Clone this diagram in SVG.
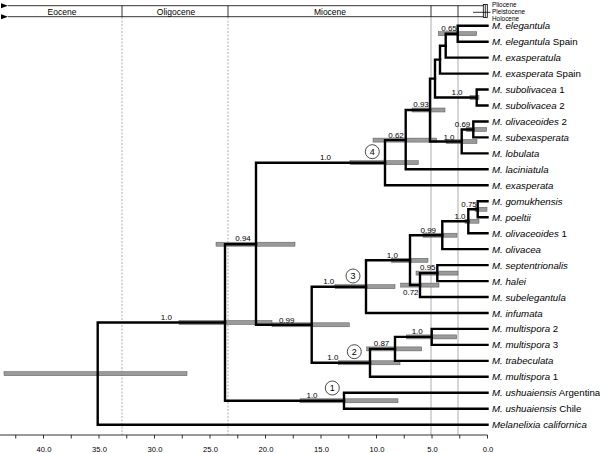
<svg xmlns="http://www.w3.org/2000/svg" width="600" height="453" viewBox="0 0 600 453">
<style>
text{font-family:"Liberation Sans",Arial,sans-serif;fill:#000}
.tip{font-size:9.7px}
.tip .i{font-style:italic}
.sup{font-size:8px;text-anchor:middle}
.ep{font-size:8.5px;text-anchor:middle}
.ep2{font-size:6.4px}
.ax{font-size:7.6px;text-anchor:middle}
.cl{font-size:9px;text-anchor:middle}
.br{fill:none;stroke:#000;stroke-width:2.4;stroke-linecap:square;stroke-linejoin:miter}
.bar{fill:#9a9a9a;stroke:#555;stroke-width:0.5}
.grid{stroke:#999;stroke-width:0.8}
.gridd{stroke:#999;stroke-width:0.8;stroke-dasharray:2,1.5}
.hl{stroke:#000;stroke-width:0.8;fill:none}
.circ{fill:#fff;stroke:#000;stroke-width:0.7}
</style>
<defs>
<marker id="arr" markerWidth="8" markerHeight="6" refX="0" refY="3" orient="auto" markerUnits="userSpaceOnUse">
<path d="M0,3 L7,0.5 L7,5.5 Z" fill="#000"/>
</marker>
</defs>
<rect width="600" height="453" fill="#fff"/>
<g id="timescale">
<line class="gridd" x1="122" y1="17" x2="122" y2="435"/>
<line class="gridd" x1="228" y1="17" x2="228" y2="435"/>
<line class="grid" x1="431" y1="17" x2="431" y2="435"/>
<line class="grid" x1="458" y1="17" x2="458" y2="435"/>
<line class="hl" x1="483.3" y1="5.7" x2="8" y2="5.7" marker-end="url(#arr)"/>
<line class="hl" x1="483.3" y1="16.7" x2="8" y2="16.7" marker-end="url(#arr)"/>
<line class="hl" x1="122" y1="5.7" x2="122" y2="16.7"/>
<line class="hl" x1="228" y1="5.7" x2="228" y2="16.7"/>
<line class="hl" x1="431" y1="5.7" x2="431" y2="16.7"/>
<line class="hl" x1="458" y1="5.7" x2="458" y2="16.7"/>
<rect class="hl" x="483.3" y="4.5" width="4" height="13"/>
<line class="hl" x1="485.3" y1="4.5" x2="485.3" y2="17.5"/>
<line class="hl" x1="473" y1="12.3" x2="490.5" y2="12.3"/>
<text class="ep" x="62" y="14.5">Eocene</text>
<text class="ep" x="176" y="14.5">Oligocene</text>
<text class="ep" x="330" y="14.5">Miocene</text>
<text class="ep2" x="492" y="7">Pliocene</text>
<text class="ep2" x="492" y="14.2">Pleistocene</text>
<text class="ep2" x="492" y="20.6">Holocene</text>
</g>
<g id="axis">
<line class="hl" x1="0" y1="435" x2="487.5" y2="435"/>
<path class="hl" d="M15.75,435v3.5M43.5,435v3.5M71.25,435v3.5M99,435v3.5M126.75,435v3.5M154.5,435v3.5M182.25,435v3.5M210,435v3.5M237.75,435v3.5M265.5,435v3.5M293.25,435v3.5M321,435v3.5M348.75,435v3.5M376.5,435v3.5M404.25,435v3.5M432,435v3.5M459.75,435v3.5M487.5,435v3.5"/>
<text class="ax" x="44" y="451.5">40.0</text>
<text class="ax" x="99.5" y="451.5">35.0</text>
<text class="ax" x="155" y="451.5">30.0</text>
<text class="ax" x="210.5" y="451.5">25.0</text>
<text class="ax" x="266" y="451.5">20.0</text>
<text class="ax" x="321.5" y="451.5">15.0</text>
<text class="ax" x="377" y="451.5">10.0</text>
<text class="ax" x="432.5" y="451.5">5.0</text>
<text class="ax" x="488" y="451.5">0.0</text>
</g>
<g id="bars">
<rect class="bar" x="4" y="371.7" width="183" height="4"/>
<rect class="bar" x="179" y="320.5" width="93" height="4"/>
<rect class="bar" x="300" y="398.8" width="98" height="4"/>
<rect class="bar" x="216" y="242.2" width="79" height="4"/>
<rect class="bar" x="350" y="160.7" width="68.3" height="4"/>
<rect class="bar" x="373" y="138.1" width="63.7" height="4"/>
<rect class="bar" x="412" y="108" width="33" height="4"/>
<rect class="bar" x="438.3" y="31.7" width="38.4" height="4"/>
<rect class="bar" x="470" y="95.5" width="9" height="4"/>
<rect class="bar" x="446" y="139.5" width="31" height="4"/>
<rect class="bar" x="466.7" y="127.5" width="20" height="4"/>
<rect class="bar" x="272" y="322.8" width="77.3" height="4"/>
<rect class="bar" x="335" y="284.7" width="60" height="4"/>
<rect class="bar" x="391.7" y="258.3" width="36.3" height="4"/>
<rect class="bar" x="423" y="233.2" width="34" height="4"/>
<rect class="bar" x="465" y="219.2" width="14" height="4"/>
<rect class="bar" x="475" y="207.25" width="12" height="4"/>
<rect class="bar" x="400.7" y="283.1" width="38.3" height="4"/>
<rect class="bar" x="416" y="271.1" width="42" height="4"/>
<rect class="bar" x="338.3" y="360.8" width="61.7" height="4"/>
<rect class="bar" x="366.7" y="346.9" width="55" height="4"/>
<rect class="bar" x="406.7" y="334.9" width="50" height="4"/>
</g>
<g id="connectors">
<path class="br" d="M97.7,373.7V322.5H225M97.7,373.7V424.7H487.5"/>
<path class="br" d="M225,322.5V244.2H256M225,322.5V400.8H344"/>
<path class="br" d="M344,400.8V392.8H487.5M344,400.8V408.7H487.5"/>
<path class="br" d="M256,244.2V162.7H385M256,244.2V324.8H311.7"/>
<path class="br" d="M385,162.7V140.1H405.7M385,162.7V185.3H487.5"/>
<path class="br" d="M405.7,140.1V110H430M405.7,140.1V169.3H487.5"/>
<path class="br" d="M430,110V78.6H435M430,110V141.5H461.7"/>
<path class="br" d="M435,78.6V59.6H440M435,78.6V97.5H476.7"/>
<path class="br" d="M440,59.6V45.7H445.7M440,59.6V73.6H487.5"/>
<path class="br" d="M445.7,45.7V33.7H457.7M445.7,45.7V57.6H487.5"/>
<path class="br" d="M457.7,33.7V25.7H487.5M457.7,33.7V41.7H487.5"/>
<path class="br" d="M476.7,97.5V89.5H487.5M476.7,97.5V105.5H487.5"/>
<path class="br" d="M461.7,141.5V129.5H473.3M461.7,141.5V153.4H487.5"/>
<path class="br" d="M473.3,129.5V121.5H487.5M473.3,129.5V137.4H487.5"/>
<path class="br" d="M311.7,324.8V286.7H366M311.7,324.8V362.8H370"/>
<path class="br" d="M366,286.7V260.3H410M366,286.7V313H487.5"/>
<path class="br" d="M410,260.3V235.2H442.3M410,260.3V285.1H420"/>
<path class="br" d="M442.3,235.2V221.2H468.3M442.3,235.2V249.1H487.5"/>
<path class="br" d="M468.3,221.2V209.25H477.7M468.3,221.2V233.2H487.5"/>
<path class="br" d="M477.7,209.25V201.3H487.5M477.7,209.25V217.2H487.5"/>
<path class="br" d="M420,285.1V273.1H437.3M420,285.1V297H487.5"/>
<path class="br" d="M437.3,273.1V265.1H487.5M437.3,273.1V281.1H487.5"/>
<path class="br" d="M370,362.8V348.9H395M370,362.8V376.8H487.5"/>
<path class="br" d="M395,348.9V336.9H431.7M395,348.9V360.9H487.5"/>
<path class="br" d="M431.7,336.9V328.9H487.5M431.7,336.9V344.9H487.5"/>
</g>
<g id="support">
<text class="sup" x="449" y="31">0.65</text>
<text class="sup" x="457" y="95">1.0</text>
<text class="sup" x="421" y="107">0.93</text>
<text class="sup" x="462.5" y="126.5">0.69</text>
<text class="sup" x="449" y="139.5">1.0</text>
<text class="sup" x="396" y="137.5">0.62</text>
<text class="sup" x="325.5" y="159.5">1.0</text>
<text class="sup" x="469" y="207">0.75</text>
<text class="sup" x="460" y="218.5">1.0</text>
<text class="sup" x="428.3" y="232.5">0.99</text>
<text class="sup" x="392.3" y="258">1.0</text>
<text class="sup" x="427.8" y="270">0.95</text>
<text class="sup" x="410.8" y="294.5">0.72</text>
<text class="sup" x="243" y="241">0.94</text>
<text class="sup" x="328.7" y="284">1.0</text>
<text class="sup" x="166.3" y="320">1.0</text>
<text class="sup" x="286.7" y="322.5">0.99</text>
<text class="sup" x="332.8" y="360">1.0</text>
<text class="sup" x="381.5" y="346">0.87</text>
<text class="sup" x="417.2" y="334">1.0</text>
<text class="sup" x="312" y="397.5">1.0</text>
</g>
<g id="clade4"><circle class="circ" cx="372.3" cy="151.7" r="7"/><text class="cl" x="372.3" y="154.9">4</text></g>
<g id="clade3"><circle class="circ" cx="353" cy="276" r="7"/><text class="cl" x="353" y="279.2">3</text></g>
<g id="clade2"><circle class="circ" cx="354.3" cy="351.7" r="7"/><text class="cl" x="354.3" y="354.9">2</text></g>
<g id="clade1"><circle class="circ" cx="332.3" cy="388" r="7"/><text class="cl" x="332.3" y="391.2">1</text></g>
<g id="t0"><text class="tip" x="492" y="29.2"><tspan class="i">M. elegantula</tspan></text></g>
<g id="t1"><text class="tip" x="492" y="45.2"><tspan class="i">M. elegantula</tspan> Spain</text></g>
<g id="t2"><text class="tip" x="492" y="61.1"><tspan class="i">M. exasperatula</tspan></text></g>
<g id="t3"><text class="tip" x="492" y="77.1"><tspan class="i">M. exasperata</tspan> Spain</text></g>
<g id="t4"><text class="tip" x="492" y="93"><tspan class="i">M. subolivacea</tspan> 1</text></g>
<g id="t5"><text class="tip" x="492" y="109"><tspan class="i">M. subolivacea</tspan> 2</text></g>
<g id="t6"><text class="tip" x="492" y="125"><tspan class="i">M. olivaceoides</tspan> 2</text></g>
<g id="t7"><text class="tip" x="492" y="140.9"><tspan class="i">M. subexasperata</tspan></text></g>
<g id="t8"><text class="tip" x="492" y="156.9"><tspan class="i">M. lobulata</tspan></text></g>
<g id="t9"><text class="tip" x="492" y="172.8"><tspan class="i">M. laciniatula</tspan></text></g>
<g id="t10"><text class="tip" x="492" y="188.8"><tspan class="i">M. exasperata</tspan></text></g>
<g id="t11"><text class="tip" x="492" y="204.8"><tspan class="i">M. gomukhensis</tspan></text></g>
<g id="t12"><text class="tip" x="492" y="220.7"><tspan class="i">M. poeltii</tspan></text></g>
<g id="t13"><text class="tip" x="492" y="236.7"><tspan class="i">M. olivaceoides</tspan> 1</text></g>
<g id="t14"><text class="tip" x="492" y="252.6"><tspan class="i">M. olivacea</tspan></text></g>
<g id="t15"><text class="tip" x="492" y="268.6"><tspan class="i">M. septentrionalis</tspan></text></g>
<g id="t16"><text class="tip" x="492" y="284.6"><tspan class="i">M. halei</tspan></text></g>
<g id="t17"><text class="tip" x="492" y="300.5"><tspan class="i">M. subelegantula</tspan></text></g>
<g id="t18"><text class="tip" x="492" y="316.5"><tspan class="i">M. infumata</tspan></text></g>
<g id="t19"><text class="tip" x="492" y="332.4"><tspan class="i">M. multispora</tspan> 2</text></g>
<g id="t20"><text class="tip" x="492" y="348.4"><tspan class="i">M. multispora</tspan> 3</text></g>
<g id="t21"><text class="tip" x="492" y="364.4"><tspan class="i">M. trabeculata</tspan></text></g>
<g id="t22"><text class="tip" x="492" y="380.3"><tspan class="i">M. multispora</tspan> 1</text></g>
<g id="t23"><text class="tip" x="492" y="396.3"><tspan class="i">M. ushuaiensis</tspan> Argentina</text></g>
<g id="t24"><text class="tip" x="492" y="412.2"><tspan class="i">M. ushuaiensis</tspan> Chile</text></g>
<g id="t25"><text class="tip" x="492" y="428.2"><tspan class="i">Melanelixia californica</tspan></text></g>
</svg>
